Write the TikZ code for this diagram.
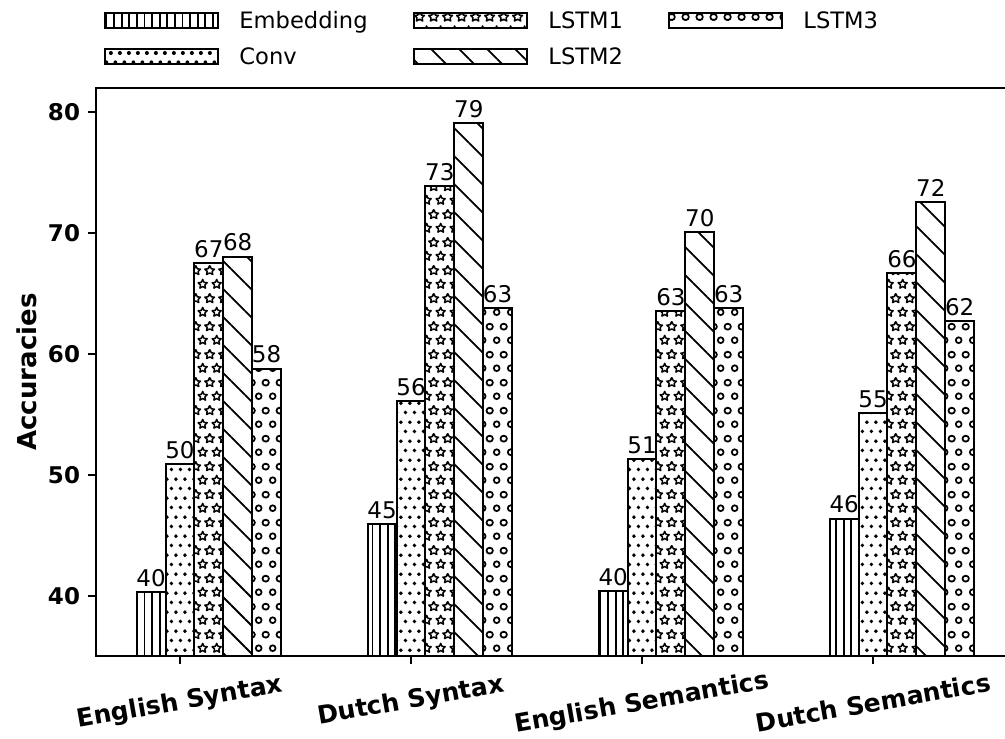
\documentclass[tikz,border=0pt]{standalone}
\usepackage{fontspec}
\setmainfont{DejaVu Sans}
\usetikzlibrary{patterns.meta,positioning}

% one outlined five-pointed star of the star hatch
\newcommand{\hstar}[2]{%
  \draw[shift={(#1,#2)}, line width=.75pt, line join=round]
    (90:2.5pt) \foreach \a in {1,...,4} {-- (54+72*\a:1.2pt) -- (90+72*\a:2.5pt)} -- (54:1.2pt) -- cycle;}

% staggered hatches (edge copies wrap round the tile)
\tikzdeclarepattern{
  name=dothatch, type=uncolored,
  bounding box={(0,0) and (4.67pt,9.33pt)},
  tile size={(4.67pt,9.33pt)},
  code={
    \fill (2.33pt,2.33pt) circle (1pt);
    \fill (0pt,7pt) circle (1pt);
    \fill (4.67pt,7pt) circle (1pt);
  }
}
\tikzdeclarepattern{
  name=starhatch, type=uncolored,
  bounding box={(0,0) and (7pt,14pt)},
  tile size={(7pt,14pt)},
  code={\hstar{3.5pt}{3.5pt}\hstar{0pt}{10.5pt}\hstar{7pt}{10.5pt}}
}
\tikzdeclarepattern{
  name=ringhatch, type=uncolored,
  bounding box={(0,0) and (7pt,14pt)},
  tile size={(7pt,14pt)},
  code={
    \draw[line width=.9pt] (3.5pt,3.5pt) circle (1.5pt);
    \draw[line width=.9pt] (0pt,10.5pt) circle (1.5pt);
    \draw[line width=.9pt] (7pt,10.5pt) circle (1.5pt);
  }
}

\begin{document}
\begin{tikzpicture}[x=115.5pt, y=6.05pt,
    bar/.style={draw, line width=1pt},
    emb/.style={pattern={Lines[distance=3.8pt, angle=90, line width=.9pt]}},
    conv/.style={pattern=dothatch},
    lstma/.style={pattern=starhatch},
    lstmb/.style={pattern={Lines[distance=9.9pt, angle=-45, line width=.9pt]}},
    lstmc/.style={pattern=ringhatch},
    val/.style={font=\fontsize{11.5}{14}\selectfont, inner sep=0, above=2.5pt},
    tick/.style={font=\fontsize{11.5}{14}\selectfont\bfseries, inner sep=0},
    axlabel/.style={font=\fontsize{12.5}{15}\selectfont\bfseries, inner sep=0},
    legpatch/.style={draw, line width=1pt, minimum width=56.5pt, minimum height=7.5pt, inner sep=0},
    legtext/.style={font=\fontsize{11.3}{13}\selectfont, inner sep=0, text height=8.2pt, text depth=0pt}]

\path[use as bounding box, fill=white] (-0.77922,28.264) rectangle (3.57143,89.256);

% bars: group / Embedding / Conv / LSTM1 / LSTM2 / LSTM3
\foreach \g/\va/\vb/\vc/\vd/\ve in {0/40.3/50.9/67.5/68.05/58.8, 1/45.95/56.1/73.9/79.05/63.8,
    2/40.4/51.3/63.55/70.1/63.8, 3/46.4/55.1/66.7/72.6/62.7}
  \foreach \k/\s/\v in {0/emb/\va, 1/conv/\vb, 2/lstma/\vc, 3/lstmb/\vd, 4/lstmc/\ve} {
    \pgfmathtruncatemacro\lab{\v}
    \draw[bar, \s] ({\g+(\k-1.5)*0.125},35) rectangle ({\g+(\k-0.5)*0.125},\v);
    \node[val] (v\g\k) at ({\g+(\k-1)*0.125},\v) {\lab};
  }

% axes
\draw[line width=1pt] (3.57143,82) -- (-0.3636,82) -- (-0.3636,35) -- (3.57143,35);
\foreach \t in {40,50,...,80}
  \draw[line width=1pt] (-0.3636,\t) -- ++(-4pt,0) node[tick, left=3.5pt] (yt\t) {\t};
\foreach \g/\txt/\yc in {0/English Syntax/31.16, 1/Dutch Syntax/31.28,
    2/English Semantics/31.1, 3/Dutch Semantics/31.2} {
  \draw[line width=1pt] (\g,35) -- ++(0,-4pt);
  \node[axlabel, rotate=10] (xt\g) at (\g,\yc) {\txt};
}
\node[axlabel, font=\fontsize{13}{15}\selectfont\bfseries, rotate=90] (ylab) at (-0.6623,58.51) {Accuracies};

% legend
\node[legpatch, emb] (kemb) at (-0.0801,87.56) {};
\node[legtext, right=10pt of kemb] (temb) {Embedding};
\node[legpatch, conv, below=9.5pt of kemb] (kconv) {};
\node[legtext, right=10pt of kconv] (tconv) {Conv};
\node[legpatch, lstma] (klstma) at (1.2576,87.56) {};
\node[legtext, right=10pt of klstma] (tlstma) {LSTM1};
\node[legpatch, lstmb, below=9.5pt of klstma] (klstmb) {};
\node[legtext, right=10pt of klstmb] (tlstmb) {LSTM2};
\node[legpatch, lstmc] (klstmc) at (2.3615,87.56) {};
\node[legtext, right=10pt of klstmc] (tlstmc) {LSTM3};
\end{tikzpicture}
\end{document}
